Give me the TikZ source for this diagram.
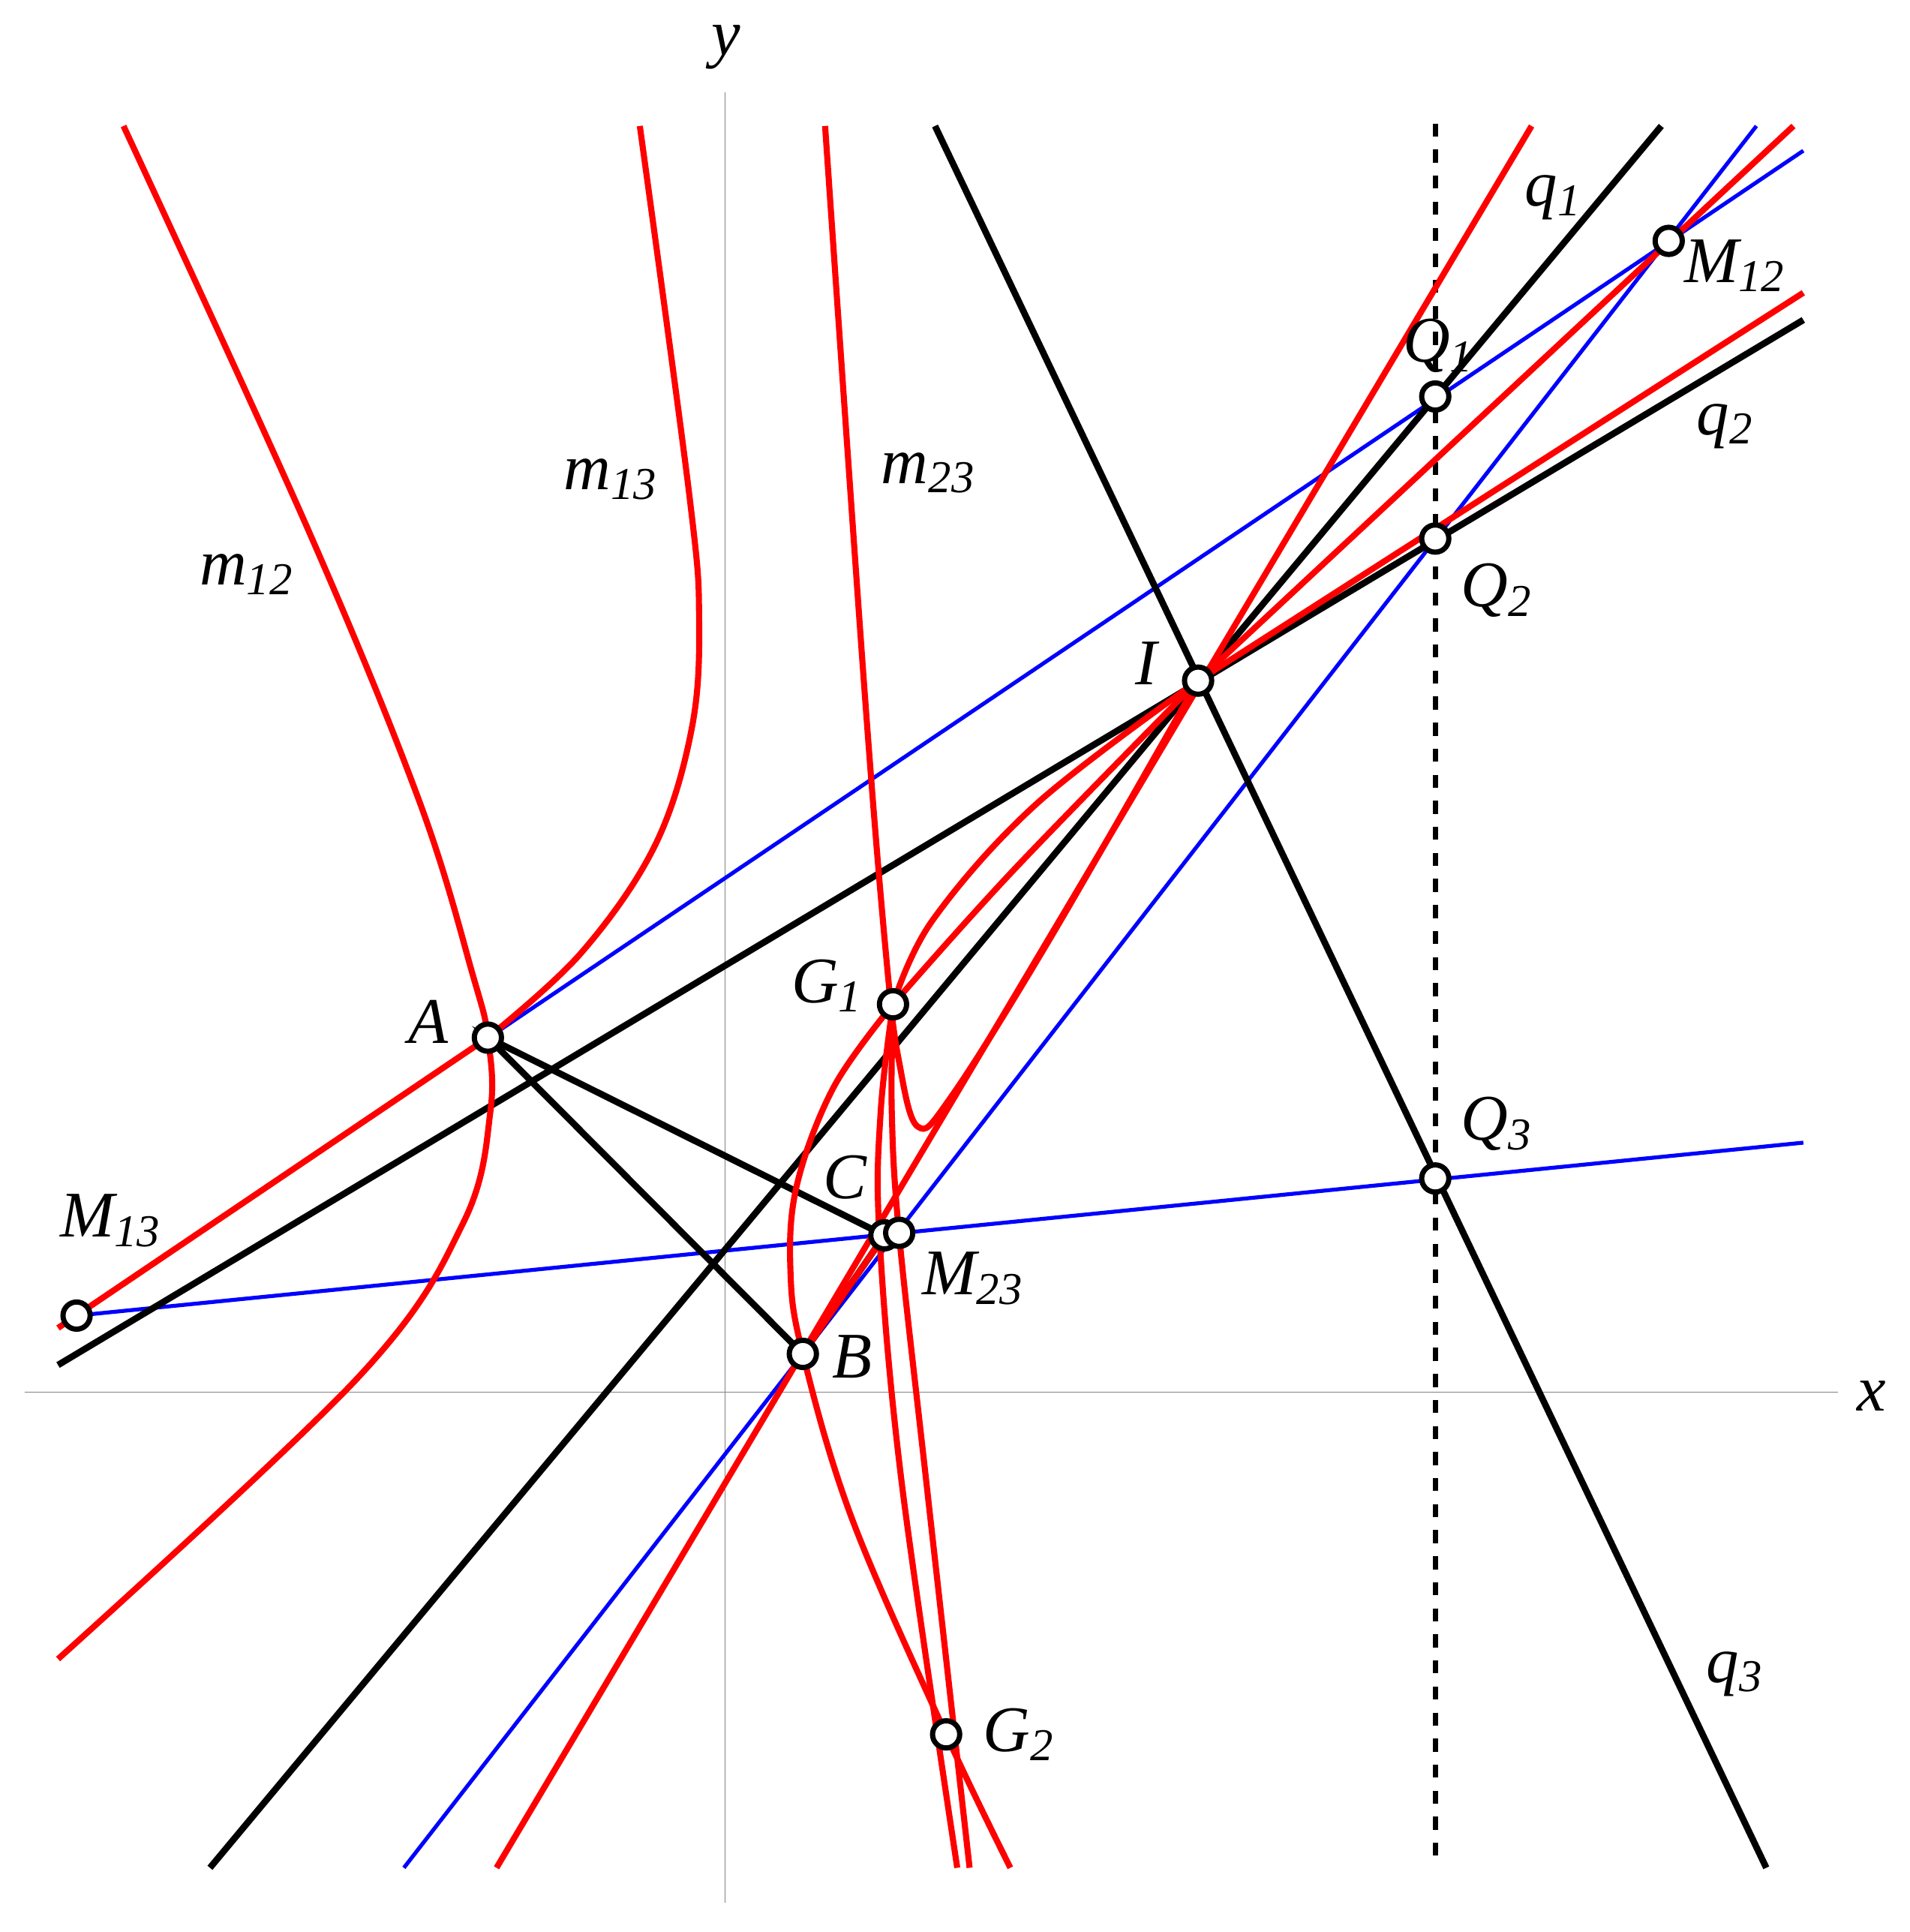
\documentclass[tikz,border=0pt]{standalone}
\usepackage{fontspec}
\setmainfont{Liberation Serif}
\begin{document}
\begin{tikzpicture}[x=0.1mm,y=-0.1mm,
  blk/.style={black,line width=1.5pt},
  blu/.style={blue,line width=0.9pt},
  rd/.style={red,line width=1.4pt},
  ax/.style={gray,line width=0.3pt},
  pt/.style={circle,draw=black,fill=white,line width=1.2pt,inner sep=0pt,minimum size=2.2mm},
  lab/.style={font=\fontsize{15}{18}\selectfont\itshape}]
\useasboundingbox (0,0) rectangle (1546,1564);
% coordinates
\coordinate (A) at (395,840); \coordinate (B) at (650,1096);
\coordinate (C) at (716,1000); \coordinate (M23) at (728,998);
\coordinate (I) at (970,551); \coordinate (Q1) at (1162,321);
\coordinate (Q2) at (1162,436); \coordinate (Q3) at (1162,954);
\coordinate (M12) at (1351,195); \coordinate (M13) at (62,1065);
\coordinate (G1) at (723,813); \coordinate (G2) at (766,1404);
% axes
\draw[ax] (20,1127) -- (1488,1127);
\draw[ax] (587,75) -- (587,1540);
\node[lab] at (1515,1130) {x};
\node[lab] at (588,38) {y};
% dashed
\draw[black,line width=1.2pt,dashed] (1162,100) -- (1162,1512);
% blue lines
\coordinate (b1) at (1460,122); \coordinate (b2) at (1460,925);
\coordinate (b3a) at (327,1512); \coordinate (b3b) at (1422,102);
\draw[blu] (M13) -- (b1);
\draw[blu] (M13) -- (b2);
\draw[blu] (b3a) -- (b3b);
% black lines
\coordinate (q3a) at (757,102); \coordinate (q3b) at (1430,1512);
\coordinate (q1a) at (170,1512); \coordinate (q1b) at (1345,102);
\coordinate (q2a) at (47,1105); \coordinate (q2b) at (1460,259);
\draw[blk] (q3a) -- (q3b);
\draw[blk] (q1a) -- (q1b);
\draw[blk] (q2a) -- (q2b);
\draw[blk] (A) -- (B) -- (C) -- cycle;
% red lines and curves
\coordinate (r1a) at (402,1512); \coordinate (r1b) at (1240,102);
\coordinate (r2) at (1452,102); \coordinate (r3) at (1460,237);
\coordinate (r4) at (47,1075);
\draw[rd] (r1a) -- (r1b);
\draw[rd] (I) -- (r2);
\draw[rd] (I) -- (r3);
\draw[rd] (r4) -- (A);
\draw[rd] plot[smooth,tension=0.6] coordinates {(100,102) (250,430) (340,650) (383,790) (395,840) (397,900) (375,990) (290,1115) (47,1343)};
\draw[rd] plot[smooth,tension=0.6] coordinates {(395,840) (470,772) (530,685) (560,590) (566,500) (558,400) (518,102)};
\draw[rd] plot[smooth,tension=0.6] coordinates {(668,102) (700,560) (718,780) (728,860) (743,912) (770,888) (850,760) (970,551)};
\draw[rd] plot[smooth,tension=0.6] coordinates {(723,813) (755,745) (840,650) (970,551)};
\draw[rd] plot[smooth,tension=0.6] coordinates {(723,813) (820,705) (970,551)};
\draw[rd] plot[smooth,tension=0.6] coordinates {(723,813) (675,880) (645,960) (640,1030) (650,1096) (690,1230) (766,1404) (818,1512)};
\draw[rd] plot[smooth,tension=0.6] coordinates {(723,813) (713,900) (712,1000) (730,1200) (775,1512)};
\draw[rd] plot[smooth,tension=0.6] coordinates {(723,813) (722,900) (728,1000) (750,1200) (785,1512)};
\draw[rd] (B) -- (C);
% points
\foreach \p in {A,B,C,M23,I,Q1,Q2,Q3,M12,M13,G1,G2} \node[pt] (n\p) at (\p) {};
% labels
\node[lab] at (200,465) {m\textsubscript{12}};
\node[lab] at (495,388) {m\textsubscript{13}};
\node[lab] at (752,383) {m\textsubscript{23}};
\node[lab] at (1258,160) {q\textsubscript{1}};
\node[lab] at (1397,345) {q\textsubscript{2}};
\node[lab] at (1405,1355) {q\textsubscript{3}};
\node[lab] at (1405,215) {M\textsubscript{12}};
\node[lab] at (1165,280) {Q\textsubscript{1}};
\node[lab] at (1212,478) {Q\textsubscript{2}};
\node[lab] at (1212,910) {Q\textsubscript{3}};
\node[lab] at (928,537) {I};
\node[lab] at (347,827) {A};
\node[lab] at (670,798) {G\textsubscript{1}};
\node[lab] at (684,953) {C};
\node[lab] at (788,1035) {M\textsubscript{23}};
\node[lab] at (690,1098) {B};
\node[lab] at (825,1404) {G\textsubscript{2}};
\node[lab] at (90,988) {M\textsubscript{13}};
\end{tikzpicture}
\end{document}
